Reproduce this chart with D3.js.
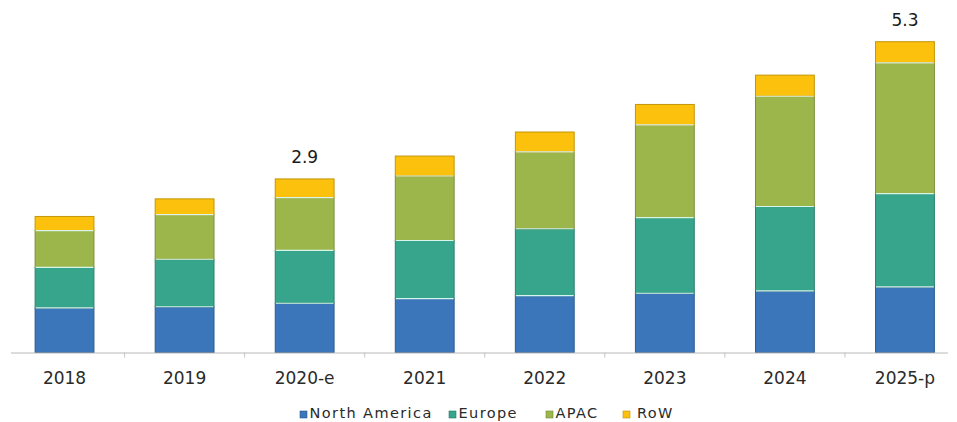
<!DOCTYPE html>
<html>
<head>
<meta charset="utf-8">
<script src="https://cdn.jsdelivr.net/npm/d3@7"></script>
<style>
  body { margin: 0; background: #fff; }
  svg { display: block; font-family: "DejaVu Sans", Arial, sans-serif; }
</style>
</head>
<body>
<div class="chart-container"></div>
<script>
// Data
const years = ['2018', '2019', '2020-e', '2021', '2022', '2023', '2024', '2025-p'];
const regions = ['North America', 'Europe', 'APAC', 'RoW'];
const northAmerica = [0.76, 0.78, 0.84, 0.92, 0.97, 1.01, 1.05, 1.12];
const europe = [0.69, 0.81, 0.90, 0.99, 1.14, 1.29, 1.44, 1.59];
const apac = [0.63, 0.76, 0.90, 1.10, 1.31, 1.58, 1.88, 2.23];
const row = [0.24, 0.27, 0.32, 0.34, 0.34, 0.35, 0.36, 0.36];
const totalLabels = { '2020-e': '2.9', '2025-p': '5.3' };

const colors = {
    'North America': '#3a76b9',
    'Europe': '#37a48c',
    'APAC': '#9db64c',
    'RoW': '#fbc10c'
};

// Build table for the stack
const table = years.map((yr, i) => ({
    year: yr,
    'North America': northAmerica[i],
    'Europe': europe[i],
    'APAC': apac[i],
    'RoW': row[i]
}));

const width = 957, height = 422;
const svg = d3.select('.chart-container')
    .append('svg')
    .attr('width', width)
    .attr('height', height);

// Scales
const x = d3.scaleBand()
    .domain(years)
    .range([4.5, 965])
    .paddingInner(0.51)
    .paddingOuter(0.255);

const y = d3.scaleLinear()
    .domain([0, 5.3])
    .range([352.5, 41.7]);

const series = d3.stack().keys(regions)(table);

// Bars
const groups = svg.selectAll('.series')
    .data(series)
    .enter()
    .append('g')
    .attr('class', 'series')
    .attr('fill', d => colors[d.key]);

groups.selectAll('rect')
    .data(d => d.map(p => ({ key: d.key, p })))
    .enter()
    .append('rect')
    .attr('x', d => x(d.p.data.year))
    .attr('y', d => y(d.p[1]))
    .attr('width', x.bandwidth())
    .attr('height', d => y(d.p[0]) - y(d.p[1]))
    .attr('stroke', d => d3.color(colors[d.key]).darker(0.7))
    .attr('stroke-width', 1);

// light separators between segments
groups.filter(d => d.key !== 'North America')
    .selectAll('line')
    .data(d => d.map(p => p))
    .enter()
    .append('line')
    .attr('x1', d => x(d.data.year) + 0.5)
    .attr('x2', d => x(d.data.year) + x.bandwidth() - 0.5)
    .attr('y1', d => y(d[0]))
    .attr('y2', d => y(d[0]))
    .attr('stroke', '#d8f5ec')
    .attr('stroke-width', 1.2);

// Axis
svg.append('line')
    .attr('x1', 11).attr('x2', 948)
    .attr('y1', y(0) + 0.5).attr('y2', y(0) + 0.5)
    .attr('stroke', '#b9b9b9')
    .attr('stroke-width', 1);

svg.selectAll('.tick-mark')
    .data(years.slice(1))
    .enter()
    .append('line')
    .attr('class', 'tick-mark')
    .attr('x1', d => x(d) - x.step() * x.paddingInner() / 2)
    .attr('x2', d => x(d) - x.step() * x.paddingInner() / 2)
    .attr('y1', y(0))
    .attr('y2', y(0) + 5)
    .attr('stroke', '#c4c4c4');

svg.selectAll('.x-label')
    .data(years)
    .enter()
    .append('text')
    .attr('class', 'x-label')
    .attr('x', d => x(d) + x.bandwidth() / 2)
    .attr('y', 384)
    .attr('text-anchor', 'middle')
    .attr('font-size', 17)
    .attr('fill', '#2a2a2a')
    .text(d => d);

// Total labels
svg.selectAll('.total-label')
    .data(table.filter(d => totalLabels[d.year]))
    .enter()
    .append('text')
    .attr('class', 'total-label')
    .attr('x', d => x(d.year) + x.bandwidth() / 2)
    .attr('y', d => y(d3.sum(regions, k => d[k])) - 16)
    .attr('text-anchor', 'middle')
    .attr('font-size', 17)
    .attr('fill', '#1a1a1a')
    .text(d => totalLabels[d.year]);

// Legend
const legendX = [300, 449, 546, 623];
const legend = svg.selectAll('.legend')
    .data(regions)
    .enter()
    .append('g')
    .attr('class', 'legend')
    .attr('transform', (d, i) => `translate(${legendX[i]},418)`);

legend.append('rect')
    .attr('x', 0)
    .attr('y', -7)
    .attr('width', 7)
    .attr('height', 7)
    .attr('fill', d => colors[d])
    .attr('stroke', d => d3.color(colors[d]).darker(0.8))
    .attr('stroke-width', 0.6);

legend.append('text')
    .attr('x', (d, i) => i === 3 ? 14 : 9.5)
    .attr('y', 0)
    .attr('font-size', 14.5)
    .attr('letter-spacing', 1.4)
    .attr('fill', '#2a2a2a')
    .text(d => d);
</script>
</body>
</html>
